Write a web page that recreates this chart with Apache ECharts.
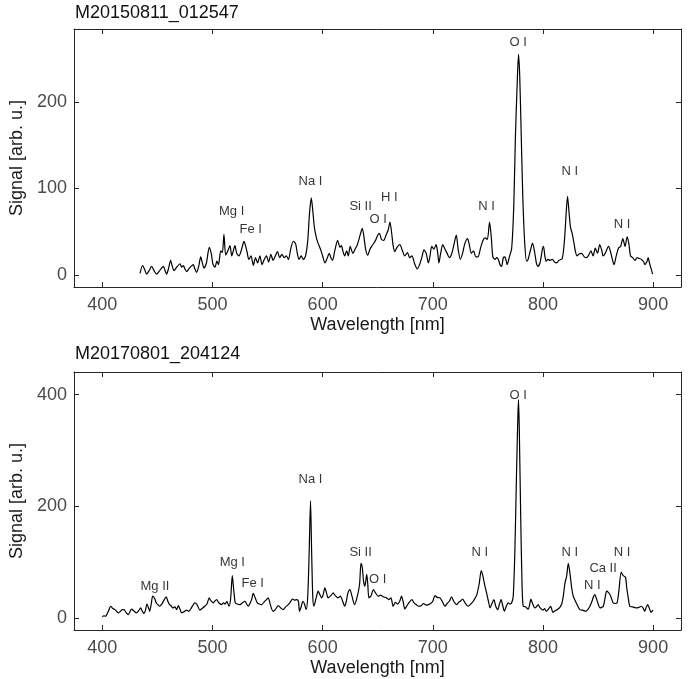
<!DOCTYPE html>
<html>
<head>
<meta charset="utf-8">
<script src="https://cdn.jsdelivr.net/npm/echarts@6/dist/echarts.min.js"></script>
<style>
  html, body { margin: 0; padding: 0; background: #fff; }
  #chart { width: 692px; height: 679px; }
</style>
</head>
<body>
<div id="chart"></div>
<script>
// Meteor spectrum M20150811_012547: wavelength [nm] and signal [arb. u.]
const topWl = [434.2,436.6,438.5,440.2,442.5,444.8,447,449.3,452,455.4,457,458.4,460.2,462,463.5,465.1,467.5,470.5,472,473.5,475,476.6,478.5,480.5,482.6,484,485.6,487.5,489.3,490.8,492.3,494.5,497.1,499,500.5,502.3,504,505.5,507.5,509,510.4,512,514,515.9,517.5,518.5,520.4,522,524,526.5,528.6,530,531.5,533,535,537.1,539,541,543,545,547,549,551,553,555,557,559,561,563,565,567,569,571,573.4,575.5,577,578.5,580.5,582.5,584.5,586.5,588,589.7,591,592.5,594,595,596.1,598,600,602.1,604,606,607.5,609,611,613.6,615.7,617,618.5,620,621.8,623.3,625,627.5,629.5,631.5,634,636,637.5,639,641,643,645.5,648,650,651.5,653.5,655.5,657.5,659.5,661.1,662.7,664,665.5,667.5,670,672.5,674.5,677,679,681,683.5,685.9,688,690,692,694,696,697.5,699,701,703,704.5,705.5,707,709,711,713,715,717,719,721.3,723,725,727,729,731.5,733,735,737,739,741,743.5,745.5,747.5,749.5,751.5,753,754.5,756.5,758,759.5,761,762.5,764,765.5,767.5,769.5,771.6,773.5,775,776.7,777.8,778.9,780.3,781.7,783.3,785.1,786.5,788.5,790.5,792.5,794,795.5,797.5,799.5,800.5,801.7,802.8,804.5,806.5,808.5,810.5,812.5,814.5,817.5,819.5,821,822.3,823.5,825,826.5,828,829.5,831,832.5,835,837.5,839.5,841.5,843.5,845.5,847.5,849.5,851.5,853.5,854.5,856.5,859.5,861.5,863,864.5,866.5,868.5,870.5,872.5,874.5,876.4,878,879.5,881.5,883.5,885.5,887.5,889.5,891.5,892.5,894.5,895.5,896.5,897.5,898.5,899.5];
const topSig = [2,11,6,1,5,10,5,1,5,10,5,1,8,17,10,5,9,13,9,11,7,4,7,10,12,7,3,10,21,14,8,14,32,24,12,9,16,12,28,26,47,23,28,34,22,26,34,25,22,30,39,34,26,18,22,11,20,14,22,12,18,22,15,24,17,22,27,20,24,20,22,18,30,39,36,25,18,22,18,22,40,70,89,75,55,45,40,36,30,22,14,19,25,20,17,28,40,32,34,27,22,28,22,33,25,30,35,46,54,44,30,23,30,35,40,46,48,41,40,46,52,61,48,34,27,32,35,28,22,26,20,22,13,7,12,20,29,25,14,22,33,30,35,25,14,24,35,30,25,20,24,34,46,30,18,25,36,42,36,25,28,21,21,32,40,43,41,61,45,21,18,20,18,12,10,20,21,12,21,31,80,160,225,255,230,160,90,40,16,18,28,37,26,14,10,15,30,33,22,16,18,17,18,15,14,17,19,40,70,91,75,55,48,38,27,22,24,25,21,20,23,28,22,31,25,35,28,22,25,33,26,18,12,22,31,33,42,33,44,36,22,20,17,20,19,18,15,12,16,20,15,10,6,1];

// Meteor spectrum M20170801_204124
const botWl = [400,401.5,403,404,405.5,407.6,409.5,411.5,413,414.5,416.5,418,419.7,421.5,423.6,425,426.6,428.5,431,433,434.8,436.3,437.8,439.2,440.5,442,443,444.5,445.7,447.5,449,450.5,452,454,456,458,459.5,461,462.5,464,466,467.5,469,470.5,472,474,476.5,478.5,480.5,482,484,486,488.6,490.5,493,495,497,498.5,500.7,502,503.7,505.5,507,508,510,511.5,513,515,516.5,518,519.3,520.7,522.5,525,527,529.5,531,532.5,534,535.5,537,539,540.7,542.5,544.6,547,549,550.6,552.5,555,557,559.7,562,564,566.5,568.8,570.5,572.7,574.5,576.5,578,579,580.5,582,583.5,585,586.5,587.8,589,590,591,592,594,596,597.5,599,600.5,602,603.5,605,607.5,609.6,611.5,614,616,618.7,620,621.5,623,624.8,626.5,629,631,633.5,634.8,636,637.2,638.4,640,641,642,644,646,648,650.5,652.5,655,658,660,662,664,666,668,670,671.6,673,674.6,676.5,678.5,681,683,685,687,689.5,691.5,694,696,698,700,702,704,706.5,708.5,711,713,715,717,719,721.5,723.5,725,727,729,732,734,736.7,738.5,740,742,744,745.5,747,748.8,750.5,752,753.5,755.5,757,759,760.5,762,763.5,765,766.5,768.5,770,771.5,773,774.5,776,777.2,777.8,778.5,779.8,781,782,784,786.6,788,789,790.5,792.6,794,795.6,797.5,800,801.5,803,805,807,809,811,813,815,817,818.5,820,821.5,823,824.5,826,827.5,829.5,831.5,833.5,836,839,841,842.6,844.5,845.8,847,848.5,850,851.8,853.3,854.8,856.3,857.8,859.3,860.8,862.2,863.7,865.5,867.3,869,871,872.8,874.9,876,877.5,878.8,881,883,884.8,887,889.3,890.8,892.3,893.5,895,896.5,898,899,900];
const botSig = [2,4,3,6,12,21,17,15,12,9,12,15,15,10,6,11,16,13,9,13,18,12,8,14,25,18,12,26,39,35,27,24,21,25,32,38,30,24,22,18,20,15,22,16,9,11,14,12,17,22,27,24,14,17,21,25,36,31,27,30,33,28,25,24,27,25,30,21,35,76,50,27,25,24,27,30,25,21,26,33,44,35,27,25,24,29,33,36,24,12,15,22,18,15,20,24,28,34,32,33,30,12,20,30,25,15,40,120,210,120,40,21,35,48,42,36,42,54,45,36,40,45,40,36,39,27,21,30,45,51,40,24,35,60,98,90,65,57,78,60,36,40,51,45,39,41,38,36,33,36,21,28,25,30,39,30,16,22,28,33,27,24,21,22,26,23,24,26,30,40,37,36,30,21,26,30,38,30,24,28,30,34,28,21,24,30,36,42,60,85,75,60,45,30,18,25,33,22,15,25,33,22,12,20,27,25,27,39,120,260,360,391,340,180,60,21,20,16,25,34,26,18,20,24,18,14,17,12,16,21,10,13,15,18,25,40,63,75,98,80,55,39,30,22,15,14,12,16,21,30,38,42,35,26,18,19,21,35,48,46,42,35,27,26,27,50,82,76,73,55,35,21,20,19,18,19,21,18,12,18,24,18,10,12,14];

// Emission line identifications: label text and anchor point (nm, signal)
const topLineNames = ['Mg I', 'Fe I', 'Na I', 'Si II', 'O I', 'H I', 'N I', 'O I', 'N I', 'N I'];
const topLineWl    = [517.4, 534.7, 589, 634.5, 650.5, 660.5, 748.8, 777.5, 824.4, 871.9];
const topLineSig   = [74, 53, 108, 79, 64.6, 89.5, 79, 269, 119.5, 58];

const botLineNames = ['Mg II', 'Mg I', 'Fe I', 'Na I', 'Si II', 'O I', 'N I', 'O I', 'N I', 'Ca II', 'N I', 'N I'];
const botLineWl    = [447.8, 518, 536.5, 589, 634.5, 650, 742.7, 777.5, 824.4, 854.6, 844.7, 871.9];
const botLineSig   = [56.6, 99.6, 62.6, 247.7, 118, 68.6, 118, 398.8, 118, 88, 58.5, 118];

// Axis limits and tick values
const xLimits = [374.3, 925.3];
const xTicks = [400, 500, 600, 700, 800, 900];
const topYLimits = [-13.85, 284.2];
const topYTicks = [0, 100, 200];
const botYLimits = [-21.5, 440.6];
const botYTicks = [0, 200, 400];

const titles = ['M20150811_012547', 'M20170801_204124'];

const FONT = 'Liberation Sans, Arial, Helvetica, sans-serif';
const AXIS_COLOR = '#262626';
const TICK_TEXT = '#4a4a4a';

const zip = (a, b) => a.map((v, i) => [v, b[i]]);
const labelData = (names, wl, sig) => names.map((n, i) => ({ name: n, value: [wl[i], sig[i]] }));

const grids = [
  { left: 74, right: 11, top: 29, height: 258 },
  { left: 74, right: 11, top: 372, height: 258 }
];

function xAxes(gridIndex) {
  const base = {
    type: 'value', gridIndex, min: xLimits[0], max: xLimits[1],
    splitLine: { show: false },
    axisLine: { show: true, onZero: false, lineStyle: { color: AXIS_COLOR, width: 1 } },
    axisTick: { show: true, inside: true, length: 5, customValues: xTicks, lineStyle: { color: AXIS_COLOR, width: 1 } }
  };
  return [
    Object.assign({}, base, {
      position: 'bottom',
      name: 'Wavelength [nm]', nameLocation: 'middle', nameGap: 29,
      nameTextStyle: { fontFamily: FONT, fontSize: 18, color: '#1a1a1a' },
      axisLabel: { show: true, customValues: xTicks, margin: 9, fontFamily: FONT, fontSize: 18, color: TICK_TEXT }
    }),
    Object.assign({}, base, { position: 'top', axisLabel: { show: false } })
  ];
}

function yAxes(gridIndex, lim, ticks) {
  const base = {
    type: 'value', gridIndex, min: lim[0], max: lim[1],
    splitLine: { show: false },
    axisLine: { show: true, onZero: false, lineStyle: { color: AXIS_COLOR, width: 1 } },
    axisTick: { show: true, inside: true, length: 5, customValues: ticks, lineStyle: { color: AXIS_COLOR, width: 1 } }
  };
  return [
    Object.assign({}, base, {
      position: 'left',
      name: 'Signal [arb. u.]', nameLocation: 'middle', nameGap: 44,
      nameTextStyle: { fontFamily: FONT, fontSize: 18, color: '#1a1a1a' },
      axisLabel: { show: true, customValues: ticks, margin: 7, fontFamily: FONT, fontSize: 18, color: TICK_TEXT }
    }),
    Object.assign({}, base, { position: 'right', axisLabel: { show: false } })
  ];
}

const lineLabelStyle = {
  show: true, position: 'inside', formatter: '{b}',
  fontFamily: FONT, fontSize: 13, color: '#000'
};

const titleStyle = { fontFamily: FONT, fontSize: 18, fontWeight: 'normal', color: '#111' };

const option = {
  backgroundColor: '#ffffff',
  animation: false,
  title: [
    { text: titles[0], left: 75, top: 4, padding: 0, textStyle: titleStyle },
    { text: titles[1], left: 75, top: 345, padding: 0, textStyle: titleStyle }
  ],
  grid: grids,
  xAxis: [...xAxes(0), ...xAxes(1)],
  yAxis: [...yAxes(0, topYLimits, topYTicks), ...yAxes(1, botYLimits, botYTicks)],
  series: [
    {
      type: 'line', xAxisIndex: 0, yAxisIndex: 0, data: zip(topWl, topSig),
      showSymbol: false, smooth: 0.25, lineStyle: { color: '#000', width: 1.2 }, silent: true
    },
    {
      type: 'line', xAxisIndex: 2, yAxisIndex: 2, data: zip(botWl, botSig),
      showSymbol: false, smooth: 0.25, lineStyle: { color: '#000', width: 1.2 }, silent: true
    },
    {
      type: 'scatter', xAxisIndex: 0, yAxisIndex: 0, symbolSize: 0, silent: true,
      data: labelData(topLineNames, topLineWl, topLineSig), label: lineLabelStyle
    },
    {
      type: 'scatter', xAxisIndex: 2, yAxisIndex: 2, symbolSize: 0, silent: true,
      data: labelData(botLineNames, botLineWl, botLineSig), label: lineLabelStyle
    }
  ]
};

const chart = echarts.init(document.getElementById('chart'), null, { renderer: 'canvas' });
chart.setOption(option);
</script>
</body>
</html>
